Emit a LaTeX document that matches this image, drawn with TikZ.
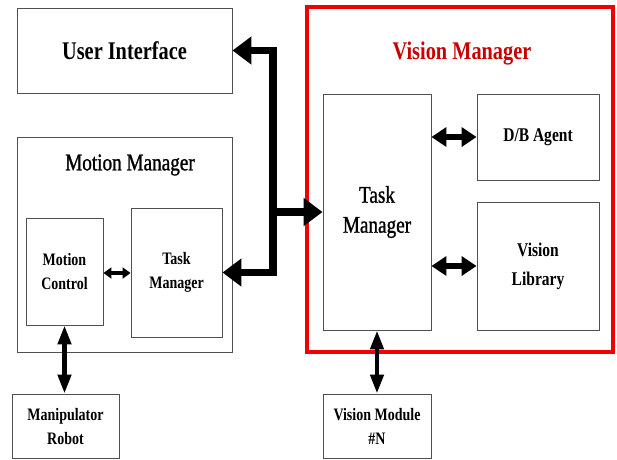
\documentclass[tikz,border=0pt]{standalone}
\usepackage{fontspec}
\setmainfont{Liberation Serif}[FakeStretch=0.8]
\newfontfamily\heavyplain{Liberation Serif}[FakeStretch=0.8,FakeBold=1.1]
\usetikzlibrary{arrows.meta}
\definecolor{boxgray}{RGB}{80,80,80}
\definecolor{vmred}{RGB}{240,0,0}
\definecolor{vmtext}{RGB}{200,0,0}
\begin{document}
\begin{tikzpicture}[x=1pt,y=-1pt,
  box/.style={draw=boxgray,line width=0.9pt,fill=white,inner sep=0pt,align=center},
  bigfont/.style={font=\fontsize{25.4}{28}\selectfont\bfseries},
  plainfont/.style={font=\heavyplain\fontsize{24}{30}\selectfont},
  libfont/.style={font=\fontsize{19.4}{29}\selectfont\bfseries},
  smallfont/.style={font=\fontsize{17.5}{24}\selectfont\bfseries},
  fatlink/.style={line width=7.5pt,-{Triangle[length=19pt,width=27pt]}},
  dblink/.style={line width=6pt,{Triangle[length=15pt,width=19pt]}-{Triangle[length=15pt,width=19pt]}},
  vlink/.style={line width=4.5pt,{Triangle[length=19pt,width=13pt]}-{Triangle[length=19pt,width=13pt]}},
  tinylink/.style={line width=3.5pt,{Triangle[length=8pt,width=11pt]}-{Triangle[length=8pt,width=11pt]}}]
\useasboundingbox[fill=white] (0,0) rectangle (617,459);

% left column
\node[box,bigfont,minimum width=215pt,minimum height=85pt] (ui) at (124.5,50.5) {User Interface};
\node[box,minimum width=215pt,minimum height=215pt] (mm) at (124.5,244.5) {};
\node[plainfont] (mmlabel) at (130,165) {Motion Manager};
\node[box,smallfont,minimum width=77pt,minimum height=107pt] (mc) at (64.5,271.5) {Motion\\Control};
\node[box,smallfont,minimum width=91pt,minimum height=129pt] (mtm) at (176.5,272.5) {Task\\Manager};
\node[box,smallfont,minimum width=107pt,minimum height=64pt] (mr) at (65.5,426) {Manipulator\\Robot};

% vision manager group
\node[draw=vmred,line width=4pt,minimum width=306pt,minimum height=345pt,inner sep=0pt] (vmgr) at (460,179.5) {};
\node[bigfont,text=vmtext] (vmlabel) at (462,53) {Vision Manager};
\node[box,plainfont,minimum width=108pt,minimum height=236pt] (vtm) at (377,212) {Task\\Manager};
\node[box,libfont,minimum width=122pt,minimum height=86pt] (db) at (538,137) {D/B Agent};
\node[box,libfont,minimum width=122pt,minimum height=128pt] (vl) at (538,266) {Vision\\Library};
\node[box,smallfont,minimum width=108pt,minimum height=64pt] (vm) at (377,426) {Vision Module\\\#N};

% bus joining the managers
\coordinate (bus) at (273,212);
\draw[fatlink] (bus) |- (ui.east);
\draw[fatlink] (bus) |- (mtm.east);
\draw[fatlink,line width=8.5pt] (bus) -- (vtm.west);

% local links
\draw[tinylink] (mc.east |- 0,273) -- (mtm.west |- 0,273);
\draw[dblink] (vtm.east |- db.west) -- (db.west);
\draw[dblink] (vtm.east |- vl.west) -- (vl.west);
\draw[vlink] (vtm.south) -- (vm.north);
\draw[vlink] (mc.south) -- (mc.south |- mr.north);
\end{tikzpicture}
\end{document}
